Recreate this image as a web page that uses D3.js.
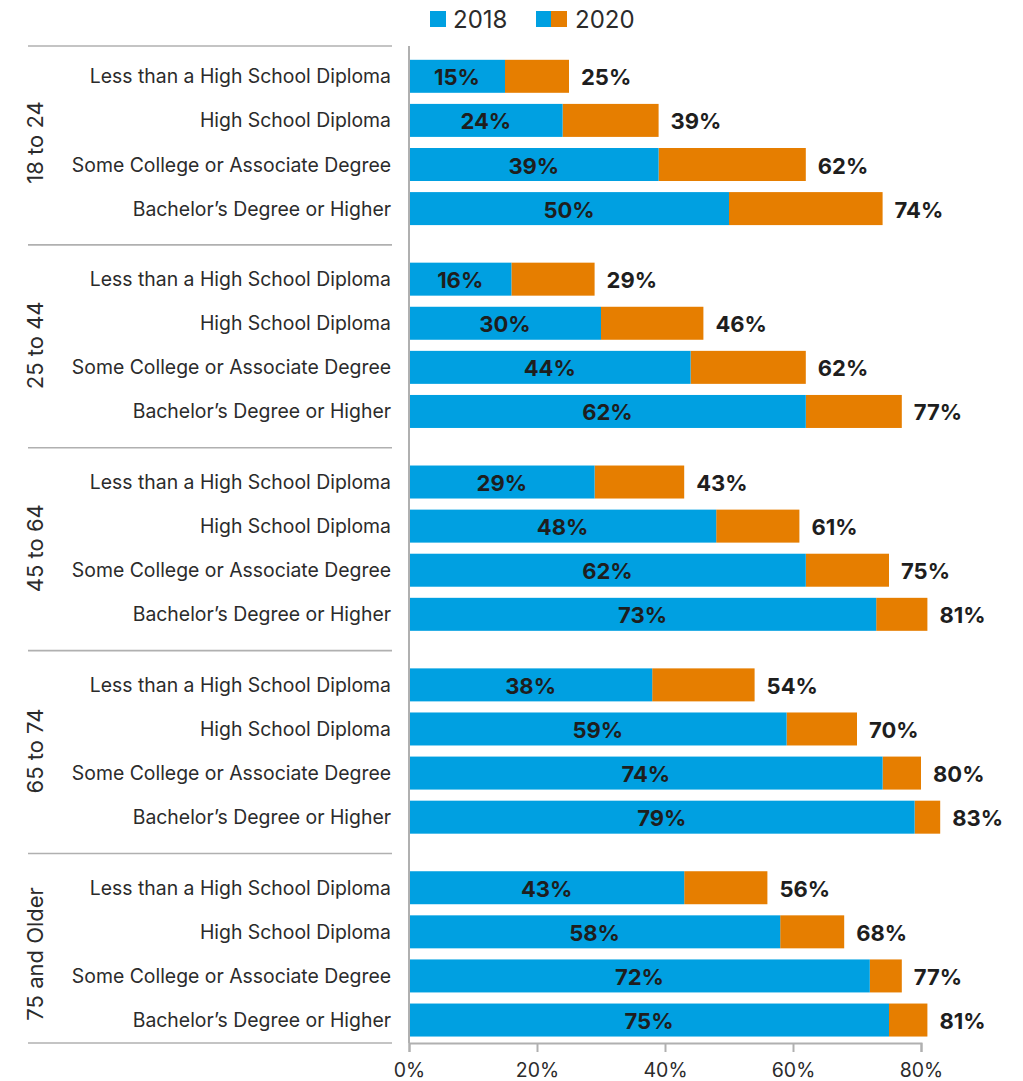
<!DOCTYPE html>
<html>
<head>
<meta charset="utf-8">
<script src="https://cdn.jsdelivr.net/npm/d3@7"></script>
<style>
  html, body { margin: 0; padding: 0; background: #fff; }
  svg { display: block; font-family: Inter, "Noto Sans", sans-serif; }
</style>
</head>
<body>
<svg id="chart" width="1023" height="1081"></svg>
<script>
const groups = ["18 to 24", "25 to 44", "45 to 64", "65 to 74", "75 and Older"];
const categories = ["Less than a High School Diploma", "High School Diploma", "Some College or Associate Degree", "Bachelor’s Degree or Higher"];
const values2018 = [
  [15, 24, 39, 50],
  [16, 30, 44, 62],
  [29, 48, 62, 73],
  [38, 59, 74, 79],
  [43, 58, 72, 75]
];
const values2020 = [
  [25, 39, 62, 74],
  [29, 46, 62, 77],
  [43, 61, 75, 81],
  [54, 70, 80, 83],
  [56, 68, 77, 81]
];
const xTicks = [0, 20, 40, 60, 80];
const seriesNames = ["2018", "2020"];

const BLUE = "#00a0e1", ORANGE = "#e67e00", TXT = "#2b2b2b", GRID = "#b0b0b0";

const svg = d3.select("#chart");
const x = d3.scaleLinear().domain([0, 80]).range([409, 921]);

// row index layout: groups separated by a gap
const groupStep = 4.6;
const yIdx = d3.scaleLinear().domain([0, 1]).range([76.3, 120.4]);
const barH = 33;
const yTop = 46, yBottom = 1043;

const rows = [];
groups.forEach((g, gi) => {
  categories.forEach((c, ci) => {
    rows.push({ g, gi, c, ci, v18: values2018[gi][ci], v20: values2020[gi][ci], idx: gi * groupStep + ci });
  });
});

// group separators
const sepYs = [yTop];
for (let gi = 1; gi < groups.length; gi++) sepYs.push(yIdx(gi * groupStep - 0.8) + 1);
sepYs.push(yBottom);
svg.append("g").selectAll("line").data(sepYs).join("line")
  .attr("x1", 28).attr("x2", 392)
  .attr("y1", d => d).attr("y2", d => d)
  .attr("stroke", GRID).attr("stroke-width", 1.6);

// group labels
svg.append("g").selectAll("text").data(groups).join("text")
  .attr("transform", (d, i) => `translate(35,${(yIdx(i * groupStep) + yIdx(i * groupStep + 3)) / 2}) rotate(-90)`)
  .attr("text-anchor", "middle").attr("dominant-baseline", "central")
  .attr("font-size", 22).attr("fill", TXT).text(d => d);

// category labels
svg.append("g").selectAll("text").data(rows).join("text")
  .attr("x", 391).attr("y", d => yIdx(d.idx))
  .attr("text-anchor", "end").attr("dominant-baseline", "central")
  .attr("font-size", 19.4).attr("fill", TXT).text(d => d.c);

// bars: 2020 (orange, from 2018 to 2020) and 2018 (blue)
const bars = svg.append("g");
bars.selectAll("rect.b20").data(rows).join("rect").attr("class", "b20")
  .attr("x", d => x(d.v18)).attr("width", d => x(d.v20) - x(d.v18))
  .attr("y", d => yIdx(d.idx) - barH / 2).attr("height", barH)
  .attr("fill", ORANGE);
bars.selectAll("rect.b18").data(rows).join("rect").attr("class", "b18")
  .attr("x", x(0)).attr("width", d => x(d.v18) - x(0))
  .attr("y", d => yIdx(d.idx) - barH / 2).attr("height", barH)
  .attr("fill", BLUE);

// value labels
svg.append("g").selectAll("text").data(rows).join("text")
  .attr("x", d => (x(0) + x(d.v18)) / 2).attr("y", d => yIdx(d.idx) + 1)
  .attr("text-anchor", "middle").attr("dominant-baseline", "central")
  .attr("font-size", 22).attr("font-weight", 700).attr("fill", "#1e1e1e")
  .text(d => d.v18 + "%");
svg.append("g").selectAll("text").data(rows).join("text")
  .attr("x", d => x(d.v20) + 12).attr("y", d => yIdx(d.idx) + 1)
  .attr("text-anchor", "start").attr("dominant-baseline", "central")
  .attr("font-size", 22).attr("font-weight", 700).attr("fill", "#1e1e1e")
  .text(d => d.v20 + "%");

// vertical baseline
svg.append("line").attr("x1", x(0)).attr("x2", x(0)).attr("y1", yTop).attr("y2", yBottom)
  .attr("stroke", GRID).attr("stroke-width", 2);

// x axis
const ax = svg.append("g").attr("transform", `translate(0,${yBottom})`)
  .call(d3.axisBottom(x).tickValues(xTicks).tickFormat(d => d + "%").tickSize(9).tickSizeOuter(9));
ax.select(".domain").attr("stroke", GRID).attr("stroke-width", 2);
ax.selectAll(".tick line").attr("stroke", GRID).attr("stroke-width", 2);
ax.selectAll(".tick text").attr("font-size", 19.5).attr("fill", TXT).attr("dy", "1.15em")
  .attr("font-family", "Inter, 'Noto Sans', sans-serif");

// legend
const lg = svg.append("g");
lg.append("rect").attr("x", 430).attr("y", 11).attr("width", 16).attr("height", 16).attr("fill", BLUE);
lg.append("text").attr("x", 453).attr("y", 19).attr("dominant-baseline", "central")
  .attr("font-size", 24).attr("fill", TXT).text(seriesNames[0]);
lg.append("rect").attr("x", 536).attr("y", 11).attr("width", 15).attr("height", 16).attr("fill", BLUE);
lg.append("rect").attr("x", 551).attr("y", 11).attr("width", 16).attr("height", 16).attr("fill", ORANGE);
lg.append("text").attr("x", 575).attr("y", 19).attr("dominant-baseline", "central")
  .attr("font-size", 24).attr("fill", TXT).text(seriesNames[1]);
</script>
</body>
</html>
